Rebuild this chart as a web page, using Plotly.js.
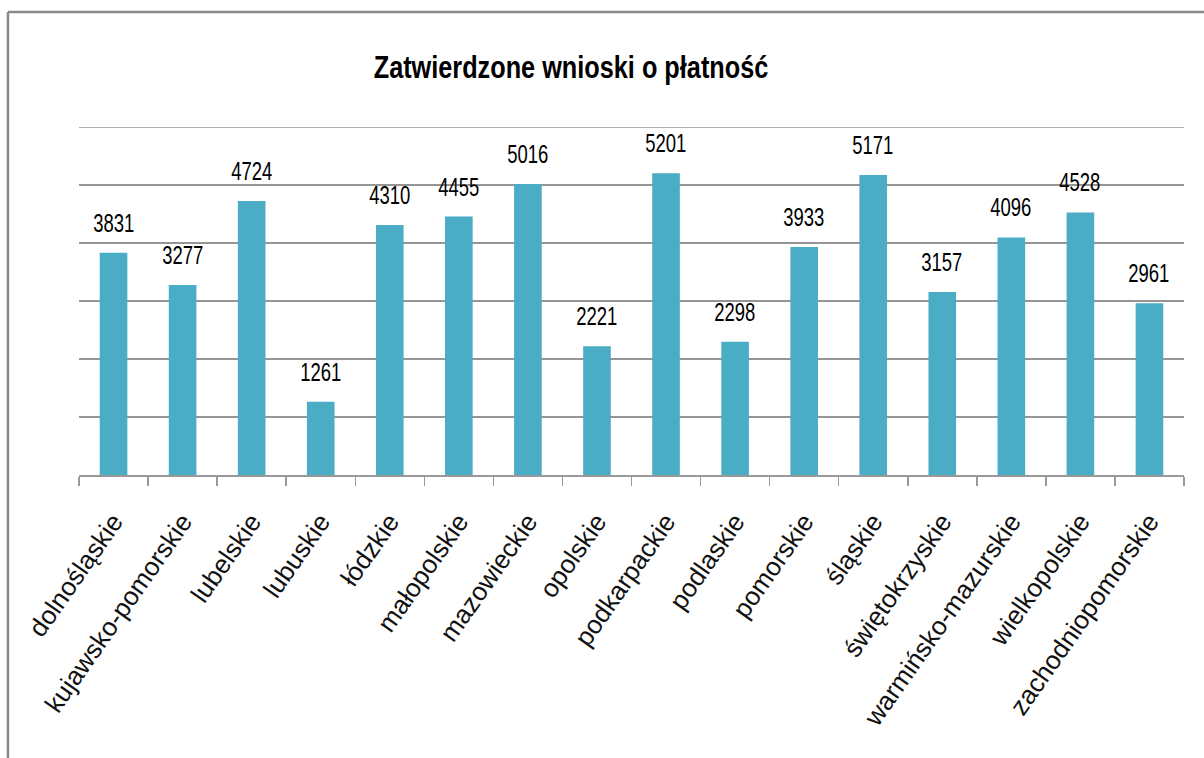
<!DOCTYPE html>
<html>
<head>
<meta charset="utf-8">
<script src="https://cdn.plot.ly/plotly-3.0.1.min.js"></script>
<style>
html,body{margin:0;padding:0;background:#fff;}
#chart{width:1204px;height:758px;}
#chart .annotation-text{transform-box:fill-box;transform-origin:center;transform:scaleX(0.74);}
#chart .gtitle{transform-box:fill-box;transform-origin:center;transform:scaleX(0.79);}
</style>
</head>
<body>
<div id="chart"></div>
<script>
const categories = ["dolnośląskie","kujawsko-pomorskie","lubelskie","lubuskie","łódzkie","małopolskie","mazowieckie","opolskie","podkarpackie","podlaskie","pomorskie","śląskie","świętokrzyskie","warmińsko-mazurskie","wielkopolskie","zachodniopomorskie"];
const values = [3831,3277,4724,1261,4310,4455,5016,2221,5201,2298,3933,5171,3157,4096,4528,2961];
const chartTitle = "Zatwierdzone wnioski o płatność";
const yMax = 6000;

const sans = '"Liberation Sans", Arial, sans-serif';

const annotations = categories.map((c, i) => ({
  x: c, y: values[i], xref: 'x', yref: 'y',
  text: String(values[i]), showarrow: false,
  yanchor: 'bottom', yshift: 14,
  font: {family: sans, size: 25, color: '#000'}
}));

const trace = {
  type: 'bar', x: categories, y: values,
  marker: {color: '#4BACC6'},
  hoverinfo: 'x+y'
};

const frameColor = '#8a8a8a';
const gridColor = '#959595';
const layout = {
  width: 1204, height: 758,
  margin: {l: 79, r: 20, t: 127, b: 283},
  paper_bgcolor: '#fff', plot_bgcolor: '#fff',
  showlegend: false,
  bargap: 0.6,
  title: {
    text: '<b>' + chartTitle + '</b>',
    font: {family: sans, size: 32, color: '#000'},
    x: 571/1204, xanchor: 'center', xref: 'container',
    y: 1 - 67/758, yanchor: 'middle', yref: 'container'
  },
  xaxis: {
    type: 'category',
    tickangle: -55,
    tickfont: {family: sans, size: 26, color: '#111'},
    showline: true, linecolor: '#999', linewidth: 2,
    ticks: 'outside', tickson: 'boundaries', ticklen: 9, tickcolor: '#999', tickwidth: 1.5,
    ticklabelstandoff: 19,
    showgrid: false, fixedrange: true
  },
  yaxis: {
    range: [0, yMax], dtick: 1000, tick0: 0,
    showticklabels: false, ticks: '',
    showgrid: true, gridcolor: gridColor, gridwidth: 1.5,
    zeroline: false, showline: false, fixedrange: true
  },
  annotations: annotations,
  shapes: [
    {type: 'line', xref: 'paper', yref: 'y', x0: 0, x1: 1, y0: yMax, y1: yMax,
     line: {color: gridColor, width: 1.5}, layer: 'below'},
    {type: 'line', xref: 'paper', yref: 'paper', x0: -0.0643, x1: -0.0643, y0: -0.82, y1: 1.3305,
     line: {color: frameColor, width: 2.5}},
    {type: 'line', xref: 'paper', yref: 'paper', x0: -0.0643, x1: 1.05, y0: 1.3305, y1: 1.3305,
     line: {color: frameColor, width: 2.5}}
  ]
};

Plotly.newPlot('chart', [trace], layout, {displayModeBar: false, staticPlot: true});
</script>
</body>
</html>
